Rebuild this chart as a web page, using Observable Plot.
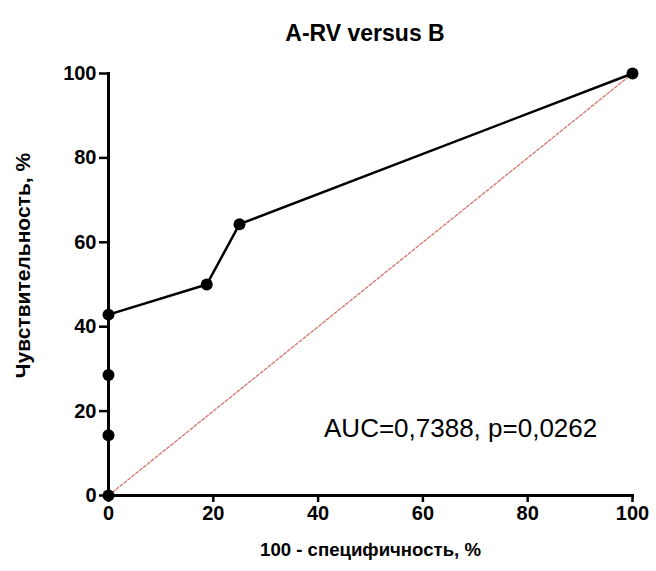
<!DOCTYPE html>
<html><head><meta charset="utf-8">
<script src="https://cdn.jsdelivr.net/npm/d3@7"></script>
<script src="https://cdn.jsdelivr.net/npm/@observablehq/plot@0.6"></script>
<style>
body{margin:0;background:#fff;font-family:"Liberation Sans",Arial,sans-serif;}
#title{width:656px;height:56px;box-sizing:border-box;padding-left:74px;text-align:center;font-weight:bold;font-size:23px;line-height:66px;color:#000;}
#chart svg{font-family:"Liberation Sans",Arial,sans-serif;color:#000;}
#layer{position:absolute;left:0;top:0;width:656px;height:12px;background:rgba(255,255,255,0.02);pointer-events:none;}
</style></head><body>
<div id="title">A-RV versus B</div>
<div id="chart"></div>
<div id="layer"></div>
<script>
const fpr = [0, 0, 0, 0, 18.75, 25, 100];
const tpr = [0, 14.29, 28.57, 42.86, 50, 64.29, 100];
const xTicks = [0, 20, 40, 60, 80, 100];
const yTicks = [0, 20, 40, 60, 80, 100];
const diagX = [0, 100];
const diagY = [0, 100];
const axisLineX = [0, 0, 100];
const axisLineY = [100, 0, 0];
const xLabel = "100 - специфичность, %";
const yLabel = "Чувствительность, %";
const annotation = "AUC=0,7388, p=0,0262";
const annX = [67.2];
const annY = [15.8];

const roc = fpr.map((x, i) => ({x, y: tpr[i]}));
const diag = diagX.map((x, i) => ({x, y: diagY[i]}));
const axisLine = axisLineX.map((x, i) => ({x, y: axisLineY[i]}));

const chart = Plot.plot({
  width: 656, height: 515,
  marginTop: 17, marginBottom: 76, marginLeft: 108, marginRight: 24,
  x: {domain: [0, 100]},
  y: {domain: [0, 100]},
  marks: [
    Plot.axisX({ticks: xTicks, tickSize: 7, tickPadding: 3, strokeWidth: 2.5, fontSize: 20, fontWeight: "bold", label: null}),
    Plot.axisY({ticks: yTicks, tickSize: 9, tickPadding: 3, strokeWidth: 2.5, fontSize: 20, fontWeight: "bold", label: null}),
    Plot.line(axisLine, {x: "x", y: "y", stroke: "#000", strokeWidth: 3, strokeLinejoin: "miter", strokeLinecap: "square"}),
    Plot.line(diag, {x: "x", y: "y", stroke: "#d4756c", strokeWidth: 1.3, strokeDasharray: "3,2"}),
    Plot.line(roc, {x: "x", y: "y", stroke: "#000", strokeWidth: 2.5}),
    Plot.dot(roc, {x: "x", y: "y", r: 6, fill: "#000", stroke: "none"}),
    Plot.text([annotation], {x: annX, y: annY, text: d => d, fontSize: 26, fill: "#000"}),
    Plot.text([xLabel], {frameAnchor: "bottom", dy: 60, text: d => d, fontSize: 18.6, fontWeight: "bold", fill: "#000"}),
    Plot.text([yLabel], {frameAnchor: "left", textAnchor: "middle", dx: -85, dy: -19, rotate: -90, text: d => d, fontSize: 21, fontWeight: "bold", fill: "#000"})
  ]
});
document.getElementById("chart").appendChild(chart);
chart.querySelectorAll("line, path").forEach(el => { getComputedStyle(el).stroke; el.getBoundingClientRect(); });
</script>
</body></html>
